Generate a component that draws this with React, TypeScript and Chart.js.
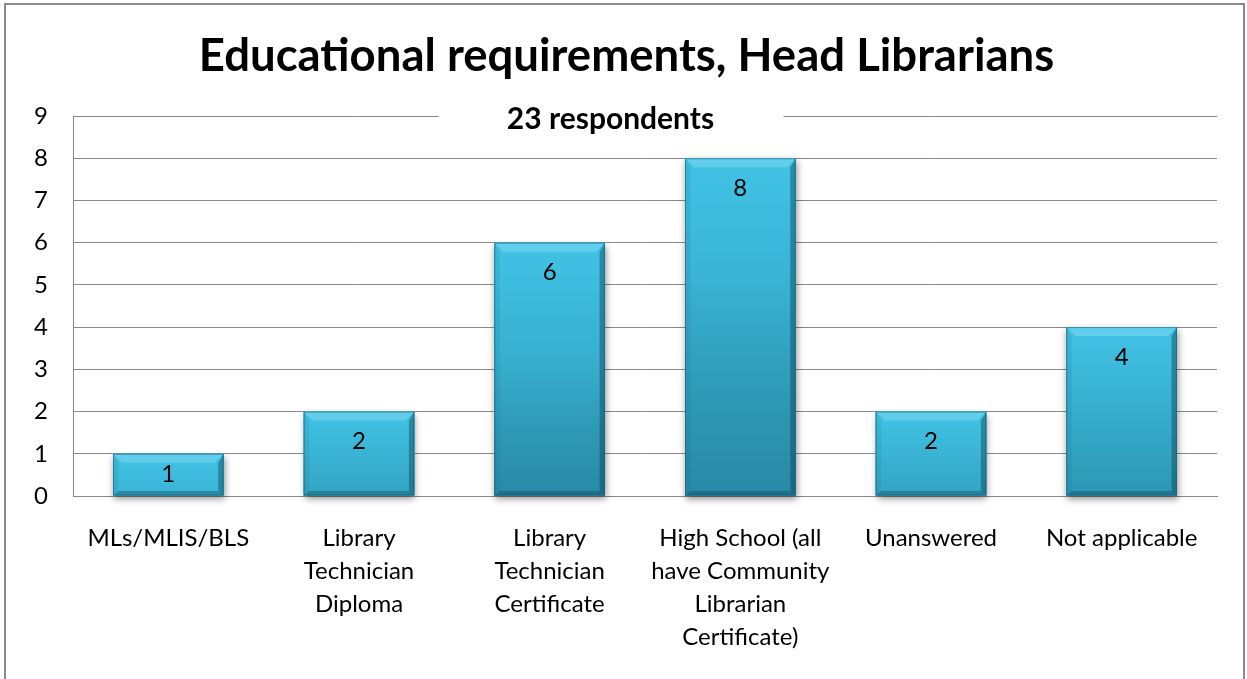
import React, { useEffect, useRef } from "react";
import { Chart, registerables } from "chart.js";

Chart.register(...registerables);

const categories: (string | string[])[] = [
  "MLs/MLIS/BLS",
  ["Library", "Technician", "Diploma"],
  ["Library", "Technician", "Certificate"],
  ["High School (all", "have Community", "Librarian", "Certificate)"],
  "Unanswered",
  "Not applicable",
];
const counts: number[] = [1, 2, 6, 8, 2, 4];
const yTicks: number[] = [0, 1, 2, 3, 4, 5, 6, 7, 8, 9];
const titleText = "Educational requirements, Head Librarians";
const subtitleText = "23 respondents";

const FONT = "Lato, 'Open Sans', sans-serif";

const framePlugin = {
  id: "frame",
  beforeDraw(chart: any) {
    const ctx = chart.ctx;
    ctx.save();
    ctx.fillStyle = "#ffffff";
    ctx.fillRect(0, 0, chart.width, chart.height);
    ctx.strokeStyle = "#8a8a8a";
    ctx.lineWidth = 2;
    ctx.strokeRect(5, 4, chart.width - 8, chart.height + 20);
    ctx.restore();
  },
};

const barDeco = {
  id: "barDeco",
  beforeDatasetsDraw(chart: any) {
    const ctx = chart.ctx;
    const meta = chart.getDatasetMeta(0);
    ctx.save();
    meta.data.forEach((bar: any) => {
      const { x, y, base, width } = bar.getProps(["x", "y", "base", "width"], true);
      ctx.shadowColor = "rgba(0,0,0,0.45)";
      ctx.shadowBlur = 7;
      ctx.shadowOffsetX = 1;
      ctx.shadowOffsetY = 3;
      ctx.fillStyle = "#2a8fab";
      ctx.fillRect(x - width / 2, y, width, base - y);
    });
    ctx.restore();
  },
  afterDatasetsDraw(chart: any) {
    const ctx = chart.ctx;
    const meta = chart.getDatasetMeta(0);
    ctx.save();
    meta.data.forEach((bar: any, i: number) => {
      const { x, y, base, width } = bar.getProps(["x", "y", "base", "width"], true);
      const l = x - width / 2;
      const r = x + width / 2;
      const t = y;
      const b = base;
      const h = b - t;
      const g = ctx.createLinearGradient(0, t, 0, t + Math.max(h, 120));
      g.addColorStop(0, "#41c3e6");
      g.addColorStop(1, "#2d97b4");
      ctx.fillStyle = g;
      ctx.fillRect(l, t, width, h);
      if (h > 200) {
        const g2 = ctx.createLinearGradient(0, t + 120, 0, b);
        g2.addColorStop(0, "rgba(45,151,180,0)");
        g2.addColorStop(1, "rgba(40,138,166,1)");
        ctx.fillStyle = g2;
        ctx.fillRect(l, t + 120, width, h - 120);
      }
      const bv = Math.min(9, h / 4);
      const poly = (pts: number[][], color: string) => {
        ctx.beginPath();
        ctx.moveTo(pts[0][0], pts[0][1]);
        for (let k = 1; k < pts.length; k++) ctx.lineTo(pts[k][0], pts[k][1]);
        ctx.closePath();
        ctx.fillStyle = color;
        ctx.fill();
      };
      poly([[l, t], [r, t], [r - bv, t + bv], [l + bv, t + bv]], "rgba(140,222,244,0.45)");
      poly([[l, t], [l + bv * 0.6, t + bv], [l + bv * 0.6, b - bv * 0.5], [l, b]], "rgba(20,100,125,0.12)");
      poly([[r, t], [r, b], [r - bv * 0.6, b - bv * 0.5], [r - bv * 0.6, t + bv]], "rgba(10,60,80,0.42)");
      poly([[l, b], [l + bv * 0.6, b - bv * 0.5], [r - bv * 0.6, b - bv * 0.5], [r, b]], "rgba(10,60,80,0.35)");
      ctx.strokeStyle = "rgba(20,90,110,0.55)";
      ctx.lineWidth = 1;
      ctx.strokeRect(l + 0.5, t + 0.5, width - 1, h - 1);

      ctx.fillStyle = "#000000";
      ctx.font = `24px ${FONT}`;
      ctx.textAlign = "center";
      ctx.textBaseline = "middle";
      const ly = Math.min(t + 30, (t + b) / 2);
      ctx.fillText(String(counts[i]), x, ly);
    });
    ctx.restore();
  },
  afterDraw(chart: any) {
    const ctx = chart.ctx;
    const area = chart.chartArea;
    ctx.save();
    // main title, centred on the whole chart box
    ctx.font = `bold 45.5px ${FONT}`;
    ctx.fillStyle = "#000000";
    ctx.textAlign = "center";
    ctx.textBaseline = "middle";
    ctx.fillText(titleText, chart.width / 2 + 3, 56);
    // subtitle over the top gridline
    ctx.font = `bold 30px ${FONT}`;
    const cx = chart.width / 2 - 13;
    ctx.fillStyle = "#ffffff";
    ctx.fillRect(cx - 172, area.top - 4, 345, 32);
    ctx.fillStyle = "#000000";
    ctx.fillText(subtitleText, cx, area.top + 3);
    ctx.restore();
  },
};

export default function App() {
  const ref = useRef<HTMLCanvasElement | null>(null);

  useEffect(() => {
    document.body.style.margin = "0";
    const canvas = ref.current!;
    const chart = new Chart(canvas, {
      type: "bar",
      data: {
        labels: categories,
        datasets: [
          {
            data: counts,
            backgroundColor: "#35a9c8",
            borderWidth: 0,
            barPercentage: 0.58,
            categoryPercentage: 1,
          },
        ],
      },
      options: {
        animation: false,
        responsive: false,
        maintainAspectRatio: false,
        layout: { padding: { left: 0, right: 30, top: 116, bottom: 0 } },
        plugins: {
          legend: { display: false },
          tooltip: { enabled: false },
          title: { display: false },
        },
        scales: {
          x: {
            grid: { display: false, drawTicks: false },
            border: { display: true, color: "#8a8a8a", width: 1 },
            ticks: {
              color: "#000000",
              font: { family: FONT, size: 24, lineHeight: 1.375 },
              padding: 26,
              maxRotation: 0,
              autoSkip: false,
            },
            afterFit: (s: any) => {
              s.height = 183;
            },
          },
          y: {
            min: 0,
            max: 9,
            afterBuildTicks: (s: any) => {
              s.ticks = yTicks.map((v) => ({ value: v }));
            },
            grid: { color: "#8a8a8a", lineWidth: 1, drawTicks: false },
            border: { display: true, color: "#8a8a8a", width: 1 },
            ticks: {
              color: "#000000",
              font: { family: FONT, size: 24 },
              padding: 25,
            },
            afterFit: (s: any) => {
              s.width = 73;
            },
          },
        },
      },
      plugins: [framePlugin, barDeco],
    });
    return () => chart.destroy();
  }, []);

  return <canvas ref={ref} width={1247} height={679} style={{ display: "block" }} />;
}
